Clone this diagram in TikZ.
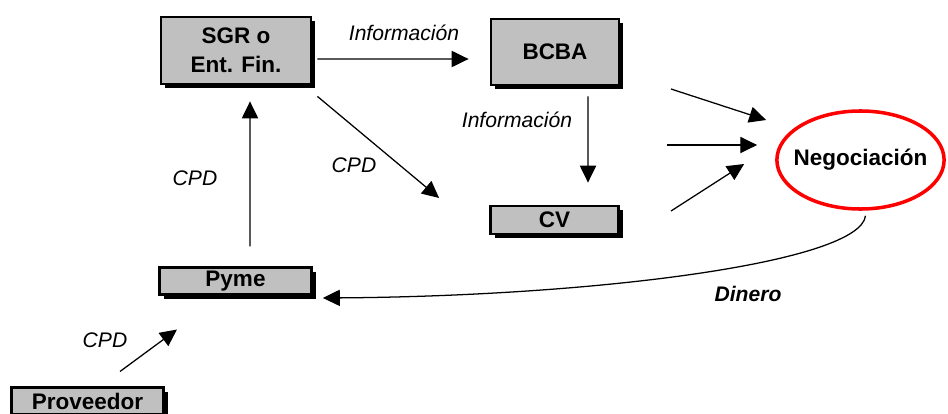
\documentclass[tikz,border=0pt]{standalone}
\usepackage{fontspec}
\setmainfont{Liberation Sans}
\usepackage{tikz}
\usetikzlibrary{shapes.geometric, arrows.meta, positioning, shadows}
\definecolor{boxgray}{RGB}{192,192,192}
\definecolor{negred}{RGB}{255,0,0}

\begin{document}
\begin{tikzpicture}[
    x=0.025cm, y=-0.025cm,
    entity/.style={rectangle, draw, line width=2pt, fill=boxgray, align=center,
        drop shadow={shadow xshift=3pt, shadow yshift=-3pt, fill=black, opacity=1},
        font=\bfseries\fontsize{16}{20.6}\selectfont, inner sep=0pt},
    market/.style={ellipse, draw=negred, line width=2.5pt, inner sep=0pt,
        minimum width=4.18cm, minimum height=2.45cm,
        font=\bfseries\fontsize{16}{19}\selectfont},
    flowlabel/.style={font=\itshape\fontsize{15}{18}\selectfont},
    arrow/.style={-{Triangle[length=12pt, width=11.5pt]}, line width=0.9pt}
]
    \useasboundingbox (0,0) rectangle (948,414);

    % SGR / Entidad financiera
    \node[entity, minimum width=3.75cm, minimum height=1.675cm] (sgr) at (236,50.5) {SGR o\\Ent. Fin.};

    % BCBA
    \node[entity, minimum width=3.2cm, minimum height=1.65cm] (bcba) at (555,52) {BCBA};

    % CV
    \node[entity, minimum width=3.2cm, minimum height=0.7cm] (cv) at (554.5,220) {CV};

    % Pyme
    \node[entity, minimum width=3.8cm, minimum height=0.68cm] (pyme) at (235.5,281) {Pyme};

    % Proveedor
    \node[entity, minimum width=3.8cm, minimum height=0.68cm] (prov) at (87.5,401) {Proveedor};

    % Negociacion
    \node[market] (neg) at (860.5,160) {\makebox[0pt]{Negociación}};

    % free ends of the arrows into the market
    \coordinate (inA) at (671,89);
    \coordinate (inB) at (667,145);
    \coordinate (inC) at (671,211);

    % Labels
    \node[flowlabel] (infotop) at (404,33) {Información};
    \node[flowlabel] (infomid) at (517,120) {Información};
    \node[flowlabel] (cpdleft) at (195,178) {CPD};
    \node[flowlabel] (cpddiag) at (354,165) {CPD};
    \node[flowlabel] (cpdprov) at (105,340) {CPD};
    \node[font=\bfseries\itshape\fontsize{15}{18}\selectfont] (dinero) at (748,294) {Dinero};

    % Arrows
    \draw[arrow] ([shift={(5,8.5)}]sgr.east) -- ([shift={(-21,7)}]bcba.west);
    \draw[arrow] ([shift={(14.5,-19.5)}]pyme.north) -- ([shift={(14,16)}]sgr.south);
    \draw[arrow] ([shift={(5,11)}]sgr.south east) -- ([shift={(-50,-22)}]cv.west);
    \draw[arrow] ([shift={(33,10)}]bcba.south) -- ([shift={(33.5,-22)}]cv.north);
    \draw[arrow] (inA) -- ([shift={(-9,-40)}]neg.west);
    \draw[arrow] (inB) -- ([shift={(-18,-15)}]neg.west);
    \draw[arrow] (inC) -- ([shift={(-31,4)}]neg.west);
    \draw[arrow] ([shift={(5,5)}]neg.south) .. controls (860,262) and (600,296) .. ([shift={(10,17)}]pyme.east);
    \draw[arrow] ([shift={(32.5,-14.5)}]prov.north) -- ([shift={(-58.5,33.5)}]pyme.south);

\end{tikzpicture}
\end{document}
